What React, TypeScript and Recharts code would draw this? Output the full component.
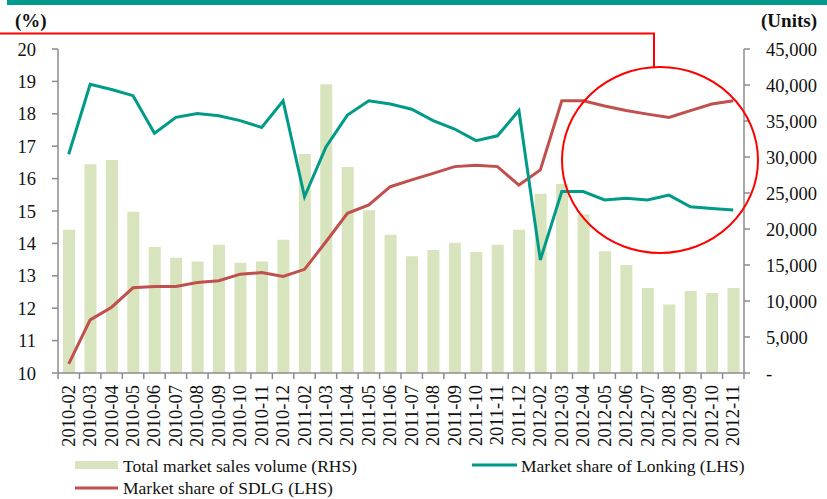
import React from 'react';
import { ComposedChart, Bar, Line, XAxis, YAxis } from 'recharts';

const months = [
  '2010-02', '2010-03', '2010-04', '2010-05', '2010-06', '2010-07', '2010-08', '2010-09',
  '2010-10', '2010-11', '2010-12', '2011-02', '2011-03', '2011-04', '2011-05', '2011-06',
  '2011-07', '2011-08', '2011-09', '2011-10', '2011-11', '2011-12', '2012-02', '2012-03',
  '2012-04', '2012-05', '2012-06', '2012-07', '2012-08', '2012-09', '2012-10', '2012-11',
];

// units, right axis
const salesVolume = [
  19900, 29000, 29600, 22400, 17500, 16000, 15500, 17800, 15300, 15500, 18500,
  30400, 40100, 28600, 22600, 19200, 16200, 17100, 18100, 16800, 17800, 19900,
  24900, 26250, 22000, 16900, 15000, 11800, 9500, 11400, 11100, 11800,
];

// %, left axis
const lonkingShare = [
  16.75, 18.91, 18.75, 18.56, 17.4, 17.89, 18.01, 17.94, 17.79, 17.58, 18.4,
  15.44, 16.98, 17.96, 18.4, 18.3, 18.14, 17.79, 17.53, 17.17, 17.32, 18.1,
  13.49, 15.6, 15.6, 15.34, 15.39, 15.34, 15.49, 15.13, 15.08, 15.03,
];

const sdlgShare = [
  10.28, 11.64, 12.03, 12.63, 12.67, 12.67, 12.79, 12.85, 13.05, 13.1, 12.98,
  13.2, 14.05, 14.93, 15.19, 15.75, 15.96, 16.16, 16.37, 16.41, 16.37, 15.8,
  16.27, 18.4, 18.4, 18.24, 18.1, 17.99, 17.89, 18.1, 18.3, 18.4,
];

const leftTicks = [10, 11, 12, 13, 14, 15, 16, 17, 18, 19, 20];
const rightTicks = [0, 5000, 10000, 15000, 20000, 25000, 30000, 35000, 40000, 45000];

const data = months.map((m, i) => ({
  month: m,
  volume: salesVolume[i],
  lonking: lonkingShare[i],
  sdlg: sdlgShare[i],
}));

const FONT = "'Liberation Serif', 'Times New Roman', serif";
const AXIS = '#8c8c8c';
const TEAL = '#009a88';
const RED = '#c0504d';
const BARC = '#d7e4bd';

const PLOT_LEFT = 58;
const PLOT_RIGHT = 744;
const band = (PLOT_RIGHT - PLOT_LEFT) / months.length;

const MonthTick = (props: any) => {
  const { x, y, payload, index } = props;
  const half = band / 2;
  return (
    <g>
      <line x1={x - half} x2={x - half} y1={y} y2={y + 6} stroke={AXIS} strokeWidth={1.5} />
      {index === months.length - 1 && (
        <line x1={x + half} x2={x + half} y1={y} y2={y + 6} stroke={AXIS} strokeWidth={1.5} />
      )}
      <text
        x={x}
        y={y + 12}
        transform={`rotate(-90, ${x}, ${y + 12})`}
        textAnchor="end"
        dominantBaseline="central"
        fontFamily={FONT}
        fontSize={18.5}
        fill="#111"
      >
        {payload.value}
      </text>
    </g>
  );
};

const fmtRight = (v: number) => (v === 0 ? '-' : v.toLocaleString('en-US'));

export default function App() {
  return (
    <div style={{ position: 'absolute', left: 0, top: 0, width: 827, height: 499, background: '#fff', fontFamily: FONT }}>
      <ComposedChart
        width={827}
        height={499}
        data={data}
        margin={{ top: 49, right: 0, bottom: 46, left: 0 }}
      >
        <XAxis
          dataKey="month"
          xAxisId="x"
          interval={0}
          tickLine={false}
          tickSize={0}
          tickMargin={0}
          height={80}
          stroke={AXIS}
          strokeWidth={1.5}
          tick={(p: any) => <MonthTick {...p} />}
        />
        <YAxis
          yAxisId="left"
          orientation="left"
          width={58}
          domain={[10, 20]}
          ticks={leftTicks}
          interval={0}
          tickSize={6}
          tickMargin={16}
          stroke={AXIS}
          strokeWidth={1.5}
          tick={{ fill: '#111', fontSize: 18.5, fontFamily: FONT }}
        />
        <YAxis
          yAxisId="right"
          orientation="right"
          width={83}
          domain={[0, 45000]}
          ticks={rightTicks}
          interval={0}
          tickSize={6}
          tickMargin={16}
          stroke={AXIS}
          strokeWidth={1.5}
          tickFormatter={fmtRight}
          tick={{ fill: '#111', fontSize: 18.5, fontFamily: FONT }}
        />
        <Bar dataKey="volume" xAxisId="x" yAxisId="right" fill={BARC} barSize={12} isAnimationActive={false} />
        <Line
          type="linear"
          dataKey="sdlg"
          xAxisId="x"
          yAxisId="left"
          stroke={RED}
          strokeWidth={3}
          dot={false}
          isAnimationActive={false}
        />
        <Line
          type="linear"
          dataKey="lonking"
          xAxisId="x"
          yAxisId="left"
          stroke={TEAL}
          strokeWidth={3}
          dot={false}
          isAnimationActive={false}
        />
      </ComposedChart>

      {/* annotations */}
      <svg width={827} height={499} style={{ position: 'absolute', left: 0, top: 0, pointerEvents: 'none' }}>
        <rect x={7} y={0} width={820} height={5} fill="#009a8a" />
        <polyline points="0,33.5 654,33.5 654,67" fill="none" stroke="#ff0000" strokeWidth={2} />
        <ellipse cx={660} cy={160} rx={98} ry={93} fill="none" stroke="#ff0000" strokeWidth={2} />
        <text x={15} y={27} fontFamily={FONT} fontSize={19} fontWeight="bold" fill="#111">(%)</text>
        <text x={817} y={27} textAnchor="end" fontFamily={FONT} fontSize={19} fontWeight="bold" fill="#111">(Units)</text>

        <rect x={75} y={461} width={43} height={8} fill={BARC} />
        <text x={123} y={466} dominantBaseline="central" fontFamily={FONT} fontSize={17.5} fill="#111">
          Total market sales volume (RHS)
        </text>
        <line x1={75} x2={118} y1={488} y2={488} stroke={RED} strokeWidth={3} />
        <text x={123} y={488} dominantBaseline="central" fontFamily={FONT} fontSize={17.5} fill="#111">
          Market share of SDLG (LHS)
        </text>
        <line x1={472} x2={517} y1={465} y2={465} stroke={TEAL} strokeWidth={3} />
        <text x={521} y={466} dominantBaseline="central" fontFamily={FONT} fontSize={17.5} fill="#111">
          Market share of Lonking (LHS)
        </text>
      </svg>
    </div>
  );
}
